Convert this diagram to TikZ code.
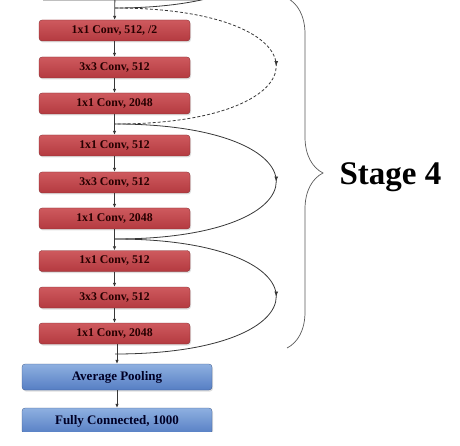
\documentclass[tikz,border=0pt]{standalone}
\usepackage{fontspec}
\setmainfont{Liberation Serif}
\usetikzlibrary{arrows.meta,positioning,shadows,decorations.pathreplacing,decorations.markings}
\definecolor{convtop}{RGB}{206,90,94}
\definecolor{convmid}{RGB}{236,150,150}
\definecolor{convbot}{RGB}{180,58,64}
\definecolor{pooltop}{RGB}{142,176,224}
\definecolor{poolmid}{RGB}{170,198,236}
\definecolor{poolbot}{RGB}{86,126,196}
\definecolor{linegray}{RGB}{55,55,55}

\begin{document}
\begin{tikzpicture}[x=1pt, y=-1pt,
  conv/.style={rectangle, rounded corners=3pt, minimum width=151pt, minimum height=21pt,
    top color=convtop, middle color=convmid, bottom color=convbot, draw=convbot!70!black, line width=0.3pt,
    drop shadow={shadow xshift=1pt, shadow yshift=-1.5pt, opacity=0.25},
    font=\bfseries\fontsize{11.8}{12}\selectfont, text=black!85!red, inner sep=0pt},
  pool/.style={conv, minimum width=190pt, minimum height=26pt,
    top color=pooltop, middle color=poolmid, bottom color=poolbot, draw=poolbot!70!black,
    font=\bfseries\fontsize{13}{14}\selectfont, text=black!85!blue},
  flow/.style={draw=linegray, line width=0.8pt, -{Latex[length=4pt,width=3.5pt]}},
  skip/.style={draw=linegray, line width=0.8pt, postaction={decorate},
    decoration={markings, mark=at position 0.5 with {\arrow{Latex[length=5pt,width=4pt]}}}}
]
\useasboundingbox (0,0) rectangle (460,446);

\begin{scope}
\clip (0,0) rectangle (460,431);

% bottom edge of the box above
\draw[black!25, line width=0.6pt] (43,0.3) -- (200,0.3);

% split / merge points
\coordinate (top) at (115,-10);
\coordinate (s0) at (115,8);
\coordinate (s1) at (115,124);
\coordinate (s2) at (115,239);
\coordinate (s3) at (115,354);
\coordinate (prev) at (115,-110);

% conv blocks
\node[conv] (c1) at (114.5,30.5) {1x1 Conv, 512, /2};
\node[conv] (c2) at (114.5,67.5) {3x3 Conv, 512};
\node[conv] (c3) at (114.5,103.5) {1x1 Conv, 2048};
\node[conv] (c4) at (114.5,145.5) {1x1 Conv, 512};
\node[conv] (c5) at (114.5,182.5) {3x3 Conv, 512};
\node[conv] (c6) at (114.5,218.5) {1x1 Conv, 2048};
\node[conv] (c7) at (114.5,261) {1x1 Conv, 512};
\node[conv] (c8) at (114.5,297.5) {3x3 Conv, 512};
\node[conv] (c9) at (114.5,333.5) {1x1 Conv, 2048};

\node[pool] (avg) at (117,377) {Average Pooling};
\node[pool] (fc) at (117,421) {Fully Connected, 1000};

% main path
\draw[flow] (top) -- (c1);
\foreach \a/\b in {c1/c2,c2/c3,c3/c4,c4/c5,c5/c6,c6/c7,c7/c8,c8/c9} {
  \draw[flow] (\a) -- (\b);
}
\draw[flow] (c9.south -| avg.north) -- (avg);
\draw[flow] (avg) -- (fc);

% shortcuts
\draw[line width=0.8pt, draw=linegray] (prev) .. controls +(215,0) and +(215,0) .. (s0);
\draw[skip, dash pattern=on 3pt off 2pt] (s0) .. controls +(215,0) and +(215,0) .. (s1);
\draw[skip] (s1) .. controls +(215,0) and +(215,0) .. (s2);
\draw[skip] (s2) .. controls +(215,0) and +(215,0) .. (s3);
\end{scope}

% stage brace
\coordinate (btop) at (287,-2);
\coordinate (bbot) at (287,348);
\draw[black!65, line width=0.7pt, decorate, decoration={brace, amplitude=36pt}] (btop) -- (bbot);
\node[font=\bfseries\fontsize{33}{36}\selectfont, anchor=west] (stage) at (336,177) {Stage 4};
\end{tikzpicture}
\end{document}
